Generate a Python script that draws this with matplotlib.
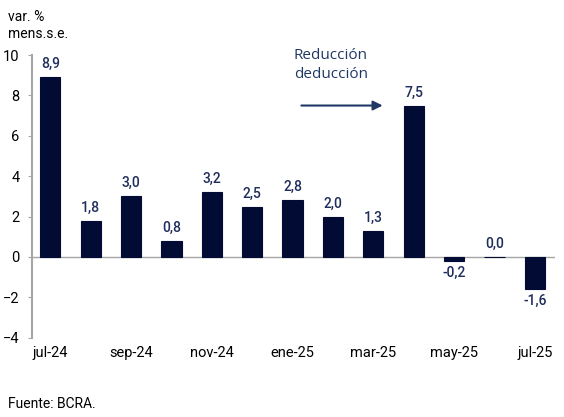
import matplotlib.pyplot as plt
import numpy as np

meses = ['jul-24', 'ago-24', 'sep-24', 'oct-24', 'nov-24', 'dic-24', 'ene-25',
         'feb-25', 'mar-25', 'abr-25', 'may-25', 'jun-25', 'jul-25']
valores = [8.9, 1.8, 3.0, 0.8, 3.2, 2.5, 2.8, 2.0, 1.3, 7.5, -0.2, 0.0, -1.6]

azul = '#020b33'
azul_txt = '#1f2d5c'

plt.rcParams['font.family'] = ['Roboto', 'DejaVu Sans']

fig = plt.figure(figsize=(5.64, 4.17), dpi=100)
ax = fig.add_axes([0.057, 0.19, 0.927, 0.678])

x = np.arange(len(valores))
# borde del mismo color para que la barra de 0,0 se vea como una linea
ax.bar(x, valores, width=0.5, color=azul, edgecolor=azul, linewidth=0.8, zorder=3)

for xi, v in zip(x, valores):
    etiqueta = f'{v:.1f}'.replace('.', ',')
    if v < 0:
        ax.text(xi, v - 0.25, etiqueta, ha='center', va='top', fontsize=10,
                color=azul_txt, fontweight='medium')
    else:
        ax.text(xi, v + 0.3, etiqueta, ha='center', va='bottom', fontsize=10,
                color=azul_txt, fontweight='medium')

ax.axhline(0, color='#a6a6a6', lw=1, zorder=2)
ax.set_ylim(-4, 10)
ax.set_xlim(-0.45, 12.5)
ax.set_yticks(range(-4, 11, 2))
ax.set_xticks(x[::2])
ax.set_xticklabels(meses[::2])
ax.tick_params(axis='y', length=3, color='#a6a6a6', labelsize=10.5, pad=6)
ax.tick_params(axis='x', length=0, labelsize=10.5, pad=6)
for s in ['top', 'right', 'bottom']:
    ax.spines[s].set_visible(False)
ax.spines['left'].set_color('#a6a6a6')
ax.spines['left'].set_linewidth(1.5)

# anotacion
ax.annotate('', xy=(8.3, 7.5), xytext=(6.15, 7.5),
            arrowprops=dict(arrowstyle='-|>', color='#1f3864', lw=1.5, mutation_scale=14))
ax.text(6.95, 9.5, 'Reducción\ndeducción', ha='center', va='center', fontsize=11,
        color='#1f3864', family='Open Sans', linespacing=1.3)

fig.text(0.014, 0.975, 'var. %\nmens.s.e.', ha='left', va='top', fontsize=10)
fig.text(0.014, 0.03, 'Fuente: BCRA.', ha='left', va='center', fontsize=10)

fig.savefig('out.png', dpi=100)
